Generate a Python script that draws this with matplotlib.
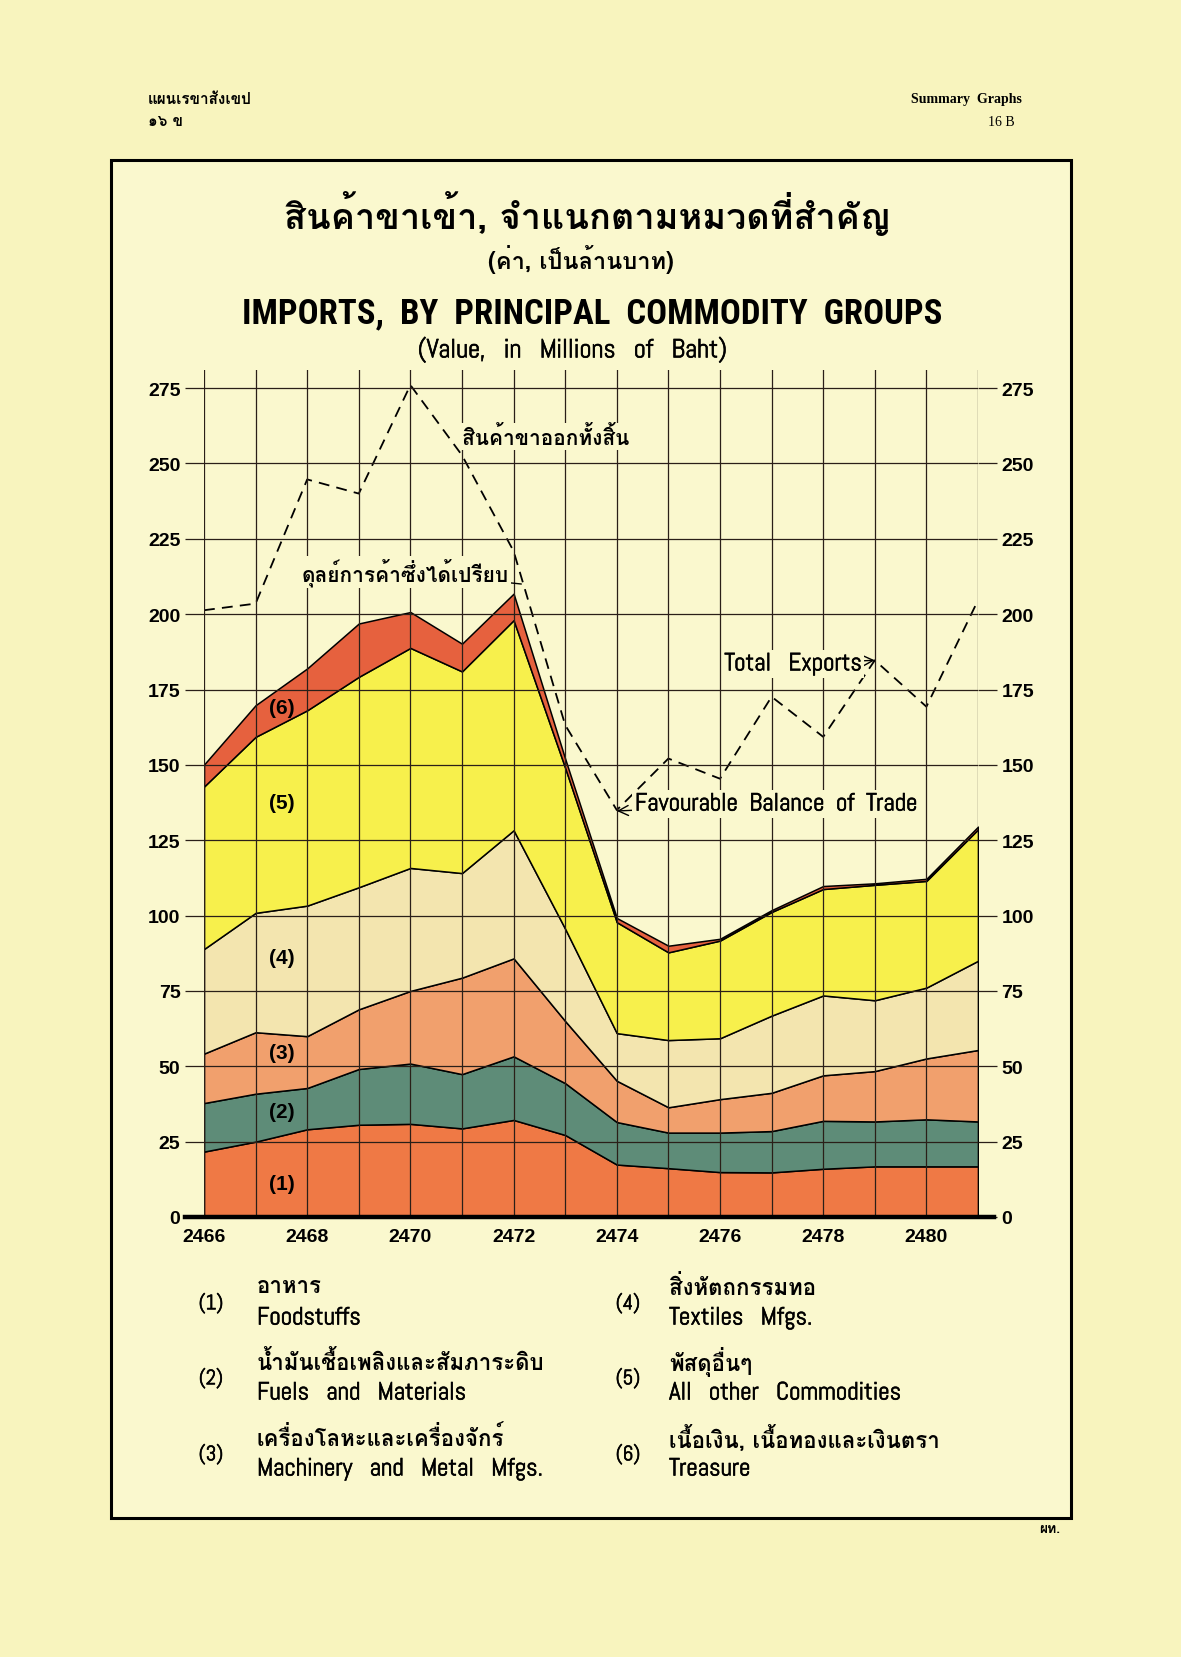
import matplotlib
matplotlib.use('Agg')
import matplotlib.pyplot as plt
import matplotlib.patheffects as pe
from matplotlib import font_manager
from matplotlib.patches import Rectangle

names = {f.name for f in font_manager.fontManager.ttflist}


def pick(cands, default='DejaVu Sans'):
    for c in cands:
        if c in names:
            return c
    return default


# Loma places Thai tone marks well without shaping
THAI_F = pick(['Loma', 'Sarabun', 'Noto Sans Thai Looped'])
ENG_F = pick(['Abel', 'Roboto Condensed', 'Archivo Narrow'])
BOLD_F = pick(['Roboto Condensed', 'Archivo Narrow', 'Asap Condensed'])
THAI = [THAI_F, 'DejaVu Sans']
ENG = [ENG_F, 'DejaVu Sans']
ENGB = [BOLD_F, 'DejaVu Sans']
NUM = ['Liberation Sans', 'DejaVu Sans']
THICK = [pe.withStroke(linewidth=0.45, foreground='black')]

years = list(range(2466, 2482))
year_labels = [str(y) if y % 2 == 0 else '' for y in years]

foodstuffs = [21.7, 25.0, 29.1, 30.6, 30.9, 29.4, 32.2, 27.2, 17.4, 16.2, 14.9, 14.8, 16.0, 16.8, 16.8, 16.8]
fuels = [16.1, 15.9, 13.7, 18.5, 20.0, 18.0, 21.1, 17.2, 14.1, 11.8, 13.1, 13.7, 15.9, 14.9, 15.6, 14.9]
machinery = [16.4, 20.4, 17.2, 19.8, 24.1, 32.0, 32.5, 20.6, 13.7, 8.4, 11.1, 12.7, 15.1, 16.7, 20.2, 23.7]
textiles = [34.7, 39.6, 43.3, 40.5, 40.8, 34.7, 42.5, 30.6, 15.8, 22.3, 20.2, 25.6, 26.5, 23.5, 23.5, 29.6]
other = [53.9, 58.4, 64.8, 69.8, 73.0, 66.9, 69.7, 53.4, 36.8, 29.1, 32.4, 34.4, 35.3, 38.3, 35.4, 43.6]
treasure = [7.3, 10.5, 13.9, 17.7, 11.9, 9.2, 8.8, 3.0, 1.4, 2.2, 0.6, 0.6, 1.0, 0.5, 0.7, 0.9]
total_exports = [201.3, 203.5, 244.7, 240.0, 276.0, 252.7, 220.9, 163.2, 135.0, 152.1, 145.4, 172.6, 159.3, 184.7, 169.3, 204.6]

group_nums = ['(1)', '(2)', '(3)', '(4)', '(5)', '(6)']
group_th = ['อาหาร', 'น้ำมันเชื้อเพลิงและสัมภาระดิบ', 'เครื่องโลหะและเครื่องจักร์',
            'สิ่งหัตถกรรมทอ', 'พัสดุอื่นๆ', 'เนื้อเงิน, เนื้อทองและเงินตรา']
group_en = ['Foodstuffs', 'Fuels   and   Materials', 'Machinery   and   Metal   Mfgs.',
            'Textiles   Mfgs.', 'All   other   Commodities', 'Treasure']
colors = ['#EF7945', '#5E8C78', '#F1A06D', '#F3E5AF', '#F7F04C', '#E6613E']

PAPER = '#F8F4BE'
INNER = '#FAF8CE'
INK = '#2a1f18'

W, H = 1181, 1658
fig = plt.figure(figsize=(W / 100, H / 100), dpi=100, facecolor=PAPER)


def fx(px):
    return px / W


def fy(py):
    return 1 - py / H


fig.patches.append(Rectangle((fx(111), fy(1519)), fx(1071) - fx(111), fy(161) - fy(1519),
                             transform=fig.transFigure, facecolor=INNER, edgecolor='black', lw=2.2,
                             zorder=-5))

ax = fig.add_axes([fx(204), fy(1218), fx(978) - fx(204), (1218 - 371) / H])
ax.set_facecolor('none')
ax.stackplot(years, foodstuffs, fuels, machinery, textiles, other, treasure,
             colors=colors, edgecolor='black', linewidth=1.1)
ax.plot(years, total_exports, color='black', lw=1.3, dashes=(6, 4))

ax.set_xlim(2466, 2481)
ax.set_ylim(0, 281)
ax.set_yticks(range(0, 276, 25))
ax.set_xticks(years)
ax.set_xticklabels(year_labels)
ax.set_axisbelow(False)
ax.grid(True, color=INK, lw=0.9)
for s in ax.spines.values():
    s.set_visible(False)
ax.tick_params(axis='y', left=True, right=True, labelleft=True, labelright=True,
               length=14, width=0.9, color=INK, pad=3, labelsize=14)
ax.tick_params(axis='x', length=0, pad=8, labelsize=14)
for lab in ax.get_yticklabels() + ax.get_xticklabels():
    lab.set_fontfamily(NUM)
    lab.set_fontweight('bold')
ax.axhline(0, xmin=-0.025, xmax=1.021, color='black', lw=3.2, clip_on=False, zorder=4)

# series numbers inside the areas
num_y = [11, 35, 54.5, 86, 137.5, 169]
for t, yv in zip(group_nums, num_y):
    ax.text(2467.5, yv, t, ha='center', va='center', fontsize=15, fontweight='bold',
            family=NUM, zorder=5)

box = dict(boxstyle='square,pad=0.1', facecolor=INNER, edgecolor='none')
ax.text(2471.0, 259, 'สินค้าขาออกทั้งสิ้น', ha='left', va='center', fontsize=15,
        fontweight='bold', family=THAI, bbox=box, zorder=5)
ax.annotate('ดุลย์การค้าซึ่งได้เปรียบ', xy=(2472.15, 210), xytext=(2469.9, 214),
            ha='center', va='center', fontsize=15, fontweight='bold', family=THAI, bbox=box,
            arrowprops=dict(arrowstyle='-', color='black', lw=1, shrinkA=0, shrinkB=0), zorder=5)
ax.annotate('Total   Exports', xy=(2479, 184.7), xytext=(2478.75, 183.5), ha='right', va='center',
            fontsize=18, family=ENG, bbox=box, path_effects=THICK,
            arrowprops=dict(arrowstyle='->', color='black', lw=1, shrinkA=0, shrinkB=0), zorder=5)
ax.annotate('Favourable  Balance  of  Trade', xy=(2474, 134.7), xytext=(2474.35, 137),
            ha='left', va='center', fontsize=18, family=ENG, bbox=box, path_effects=THICK,
            arrowprops=dict(arrowstyle='->', color='black', lw=1, shrinkA=0, shrinkB=0), zorder=5)

# titles
fig.text(fx(587), fy(214), 'สินค้าขาเข้า, จำแนกตามหมวดที่สำคัญ', ha='center', va='center',
         fontsize=26, fontweight='bold', family=THAI)
fig.text(fx(581), fy(259), '(ค่า, เป็นล้านบาท)', ha='center', va='center',
         fontsize=17, fontweight='bold', family=THAI)
fig.text(fx(592), fy(314), 'IMPORTS,  BY  PRINCIPAL  COMMODITY  GROUPS', ha='center', va='center',
         fontsize=25, fontweight='bold', family=ENGB)
fig.text(fx(573), fy(351), '(Value,   in   Millions   of   Baht)', ha='center', va='center',
         fontsize=19, family=ENG, path_effects=THICK)

# header / footer
fig.text(fx(148), fy(100), 'แผนเรขาสังเขป', ha='left', va='center', fontsize=11,
         fontweight='bold', family=THAI)
fig.text(fx(148), fy(122), '๑๖ ข', ha='left', va='center', fontsize=11, fontweight='bold', family=THAI)
fig.text(fx(1022), fy(100), 'Summary  Graphs', ha='right', va='center', fontsize=10,
         fontweight='bold', family=['Liberation Serif', 'DejaVu Serif'])
fig.text(fx(1015), fy(122), '16 B', ha='right', va='center', fontsize=10,
         family=['Liberation Serif', 'DejaVu Serif'])
fig.text(fx(1050), fy(1530), 'ผท.', ha='center', va='center', fontsize=10, fontweight='bold', family=THAI)

# legend, two columns of three
col_x = [(211, 257), (628, 669)]
row_y = [1304, 1379, 1455]
for i in range(6):
    nx, tx = col_x[i // 3]
    ry = row_y[i % 3]
    fig.text(fx(nx), fy(ry), group_nums[i], ha='center', va='center', fontsize=15, family=ENG,
             path_effects=THICK)
    fig.text(fx(tx), fy(ry - 17), group_th[i], ha='left', va='center', fontsize=16,
             fontweight='bold', family=THAI)
    fig.text(fx(tx), fy(ry + 15), group_en[i], ha='left', va='center', fontsize=18, family=ENG,
             path_effects=THICK)

fig.savefig('out.png', dpi=100, facecolor=PAPER)
